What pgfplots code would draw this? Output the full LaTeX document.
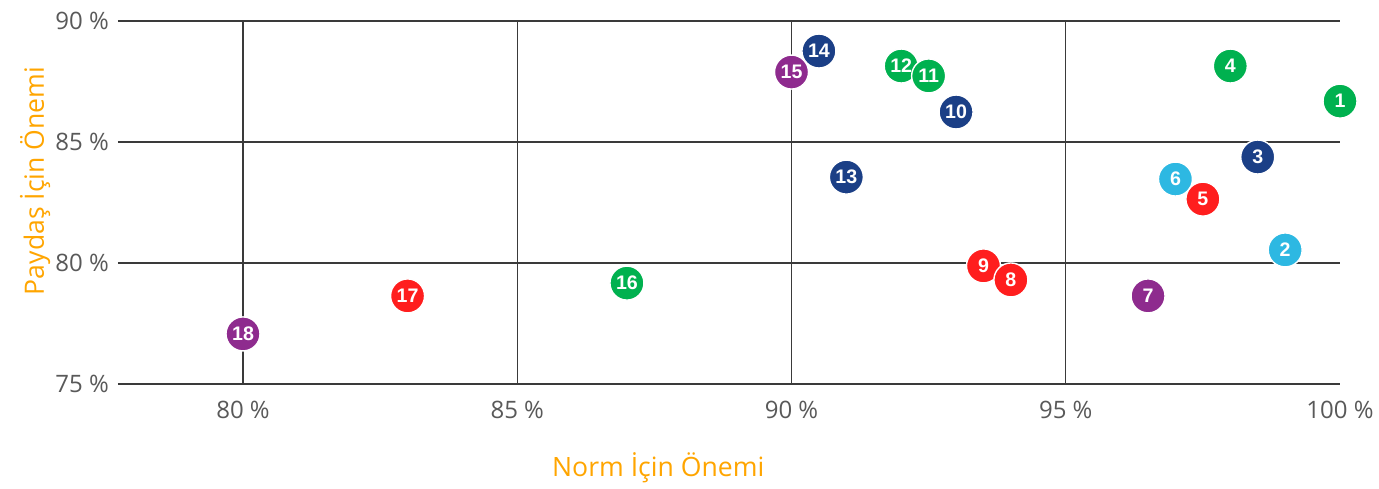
\documentclass[border=0pt]{standalone}
\usepackage{fontspec}
\setmainfont{Open Sans}
\newfontfamily\numfont{Liberation Sans}
\usepackage{pgfplots}
\pgfplotsset{compat=1.18}

\definecolor{cgreen}{HTML}{00B14F}
\definecolor{cblue}{HTML}{1B3F86}
\definecolor{cpurple}{HTML}{8E2B8E}
\definecolor{cred}{HTML}{FF1E1E}
\definecolor{clight}{HTML}{2DB8E2}
\definecolor{corange}{HTML}{FFA500}
\definecolor{ctick}{HTML}{595959}
\definecolor{cgrid}{HTML}{3A3A3A}

\pgfplotsset{
  bubble/.style={only marks, mark=*, mark size=8.5pt,
    mark options={fill=#1, draw=white, line width=0.7pt},
    point meta=explicit symbolic,
    nodes near coords={\pgfplotspointmeta},
    every node near coord/.append style={anchor=center, font=\numfont\bfseries\fontsize{9.8}{9.8}\selectfont, text=white, inner sep=0pt}},
}

\begin{document}
\begin{tikzpicture}
\begin{axis}[scale only axis, width=611pt, height=181.5pt,
  xmin=77.721, xmax=100, ymin=75, ymax=90, clip=false,
  axis line style={draw=none}, major tick length=0pt,
  xtick={80,85,90,95,100}, xticklabels={80~\%,85~\%,90~\%,95~\%,100~\%},
  extra x ticks={80,85,90,95}, extra x tick labels={},
  extra x tick style={grid=major},
  ytick={75,80,85,90}, yticklabels={75~\%,80~\%,85~\%,90~\%},
  ymajorgrids, grid style={cgrid, line width=0.6pt},
  tick label style={font=\fontsize{12}{12}\selectfont, text=ctick},
  xticklabel style={yshift=-5pt},
  yticklabel style={xshift=-1pt},
  /pgf/number format/assume math mode=true]
\addplot[bubble=clight] coordinates {(99,80.54)[2] (97,83.47)[6]};
\addplot[bubble=cblue] coordinates {(98.5,84.38)[3] (93,86.24)[10] (91,83.55)[13] (90.5,88.76)[14]};
\addplot[bubble=cgreen] coordinates {(100,86.69)[1] (98,88.14)[4] (92,88.14)[12] (92.5,87.73)[11] (87,79.17)[16]};
\addplot[bubble=cpurple] coordinates {(96.5,78.64)[7] (90,87.89)[15] (80,77.07)[18]};
\addplot[bubble=cred] coordinates {(97.5,82.64)[5] (93.5,79.88)[9] (94,79.30)[8] (83,78.64)[17]};
\node[font=\fontsize{13.3}{13.3}\selectfont, text=corange] at (axis cs:87.57,71.53) {Norm İçin Önemi};
\node[font=\fontsize{13.3}{13.3}\selectfont, text=corange, rotate=90] at (axis cs:76.21,83.39) {Paydaş İçin Önemi};
\end{axis}
\pgfresetboundingbox
\path[use as bounding box] ([shift={(-59pt,-52pt)}]current axis.south west) rectangle ([shift={(19.5pt,10.5pt)}]current axis.north east);
\end{tikzpicture}
\end{document}
